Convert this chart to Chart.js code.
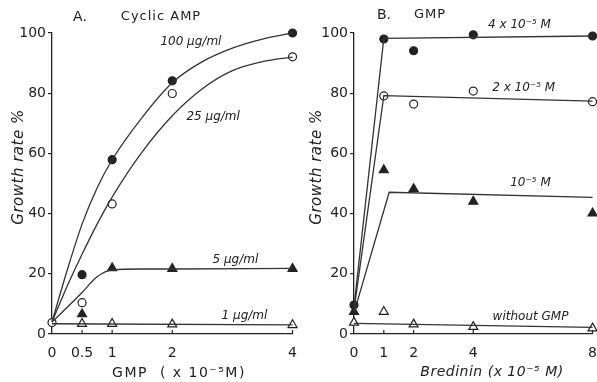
<!DOCTYPE html>
<html>
<head>
<meta charset="utf-8">
<script src="https://cdn.jsdelivr.net/npm/chart.js@4"></script>
<style>
  html, body { margin: 0; padding: 0; background: #fff; overflow: hidden; }
  #wrap { position: relative; width: 597px; height: 382px; overflow: hidden; }
  .panel { position: absolute; top: 0; height: 382px; }
  #panel-a { left: 0; width: 300px; }
  #panel-b { left: 300px; width: 300px; }
</style>
</head>
<body>
<div id="wrap">
  <div class="panel" id="panel-a"><canvas id="chart-a"></canvas></div>
  <div class="panel" id="panel-b"><canvas id="chart-b"></canvas></div>
</div>
<script>
// Panel A: cyclic AMP, x = GMP (x 10^-5 M)
const doseA = [0.5, 1, 2, 4]
const camp100 = [19.7, 57.9, 84.1, 100]
const camp25 = [10.4, 43.2, 79.9, 92.1]
const camp5 = [6.6, 21.9, 21.7, 21.7]
const camp1 = [3.4, 3.4, 3.2, 3.0]
const controlA = 3.8
const xTicksA = [0, 0.5, 1, 2, 4]

// hand drawn curves
const curveX = [0, 0.25, 0.5, 0.75, 1, 1.5, 2, 2.5, 3, 3.5, 4]
const curve100Y = [4, 21, 36.5, 48.5, 57.9, 72, 83.5, 90.5, 95, 98, 100]
const curve25Y = [4, 15.8, 26.5, 36.5, 45.5, 60.5, 72.5, 81.5, 87.5, 90.5, 92]
const curve5X = [0, 0.25, 0.5, 0.75, 1, 1.5, 2, 4]
const curve5Y = [4, 8.8, 13.8, 19, 21.3, 21.6, 21.6, 21.8]
const curve1X = [0, 4]
const curve1Y = [3.4, 3.0]

// Panel B: GMP, x = Bredinin (x 10^-5 M)
const doseB = [0, 1, 2, 4, 8]
const gmp4 = [9.6, 98, 94.1, 99.4, 99]
const gmp2 = [null, 79.1, 76.4, 80.7, 77.2]
const gmp1 = [7.4, 54.5, 48.2, 44, 40.1]
const noGmp = [3.8, 7.4, 3.2, 2.4, 1.9]
const xTicksB = [0, 1, 2, 4, 8]

const fit4X = [0, 1, 8]
const fit4Y = [9, 98.2, 99]
const fit2X = [0, 1, 8]
const fit2Y = [8, 79.2, 77.4]
const fit1X = [0, 1.18, 8]
const fit1Y = [7, 47.1, 45.4]
const fit0X = [0, 8]
const fit0Y = [3.5, 2.2]

const ink = '#222'
const lineInk = '#333'

Chart.defaults.font.family = 'DejaVu Sans'
Chart.defaults.color = ink

const pairs = (xs, ys) => xs.map((x, i) => ({ x: x, y: ys[i] })).filter((p) => p.y !== null)

const curve = (xs, ys, smooth) => ({
  type: 'line',
  data: pairs(xs, ys),
  borderColor: lineInk,
  borderWidth: 1.3,
  pointRadius: 0,
  tension: smooth ? 0.4 : 0,
  cubicInterpolationMode: smooth ? 'monotone' : 'default',
  clip: false
})

const marks = (xs, ys, style, filled) => ({
  type: 'scatter',
  data: pairs(xs, ys),
  pointStyle: style,
  pointRadius: style === 'triangle' ? 5.2 : 4,
  pointBackgroundColor: filled ? ink : '#fff',
  pointBorderColor: ink,
  pointBorderWidth: 1.2,
  clip: false
})

const annotate = {
  id: 'annotate',
  afterDraw(chart, args, opts) {
    const { ctx } = chart
    const x = chart.scales.x
    const y = chart.scales.y
    ctx.save()
    ctx.strokeStyle = ink
    ctx.lineWidth = 1.2
    opts.xTicks.forEach((v) => {
      if (v === 0) return
      const px = x.getPixelForValue(v)
      ctx.beginPath()
      ctx.moveTo(px, y.bottom)
      ctx.lineTo(px, y.bottom - 4)
      ctx.stroke()
    })
    ctx.fillStyle = ink
    ctx.textAlign = 'center'
    ctx.textBaseline = 'middle'
    opts.labels.forEach((l) => {
      ctx.font = 'italic 12px "DejaVu Sans"'
      ctx.letterSpacing = '0px'
      ctx.fillText(l.text, x.getPixelForValue(l.x), y.getPixelForValue(l.y))
    })
    opts.texts.forEach((t) => {
      ctx.font = t.font
      ctx.letterSpacing = t.spacing || '0px'
      ctx.save()
      ctx.translate(t.px, t.py)
      ctx.rotate(t.rot || 0)
      ctx.fillText(t.text, 0, 0)
      ctx.restore()
    })
    ctx.restore()
  }
}

function makeChart(id, datasets, xMax, xTicks, yWidth, rightPad, labels, texts) {
  return new Chart(document.getElementById(id), {
    data: { datasets: datasets },
    options: {
      responsive: true,
      maintainAspectRatio: false,
      animation: false,
      layout: { padding: { top: 33, right: rightPad, left: 0, bottom: 0 } },
      plugins: {
        legend: { display: false },
        tooltip: { enabled: false },
        annotate: { xTicks: xTicks, labels: labels, texts: texts }
      },
      scales: {
        x: {
          type: 'linear',
          min: 0,
          max: xMax,
          afterBuildTicks: (scale) => {
            scale.ticks = xTicks.map((v) => ({ value: v }))
          },
          afterFit: (scale) => {
            scale.height = 48
          },
          grid: { display: false },
          border: { display: true, color: ink, width: 1.3 },
          ticks: {
            padding: 3,
            font: { size: 14 },
            color: ink,
            callback: (v) => String(v)
          }
        },
        y: {
          min: 0,
          max: 100,
          afterFit: (scale) => {
            scale.width = yWidth
          },
          grid: { drawOnChartArea: false, drawTicks: true, tickLength: 4, color: ink, lineWidth: 1.2 },
          border: { display: true, color: ink, width: 1.3 },
          ticks: { stepSize: 20, padding: 2, font: { size: 14 }, color: ink }
        }
      }
    },
    plugins: [annotate]
  })
}

makeChart(
  'chart-a',
  [
    curve(curveX, curve100Y, true),
    curve(curveX, curve25Y, true),
    curve(curve5X, curve5Y, true),
    curve(curve1X, curve1Y, false),
    marks(doseA, camp100, 'circle', true),
    marks([0, ...doseA], [controlA, ...camp25], 'circle', false),
    marks(doseA, camp5, 'triangle', true),
    marks(doseA, camp1, 'triangle', false)
  ],
  4,
  xTicksA,
  52,
  2,
  [
    { text: '100 µg/ml', x: 2.31, y: 97 },
    { text: '25 µg/ml', x: 2.68, y: 72.3 },
    { text: '5 µg/ml', x: 3.05, y: 24.7 },
    { text: '1 µg/ml', x: 3.2, y: 6 }
  ],
  [
    { text: 'A.', px: 80, py: 17, font: '14px "DejaVu Sans"' },
    { text: 'Cyclic AMP', px: 161, py: 17, font: '13px "DejaVu Sans"', spacing: '1px' },
    { text: 'Growth rate %', px: 19, py: 167, rot: -Math.PI / 2, font: 'italic 15px "DejaVu Sans"', spacing: '0.5px' },
    { text: 'GMP  ( x 10⁻⁵M)', px: 179, py: 373, font: '14px "DejaVu Sans"', spacing: '1.5px' }
  ]
)

makeChart(
  'chart-b',
  [
    curve(fit4X, fit4Y, false),
    curve(fit2X, fit2Y, false),
    curve(fit1X, fit1Y, false),
    curve(fit0X, fit0Y, false),
    marks(doseB, gmp4, 'circle', true),
    marks(doseB, gmp2, 'circle', false),
    marks(doseB, gmp1, 'triangle', true),
    marks(doseB, noGmp, 'triangle', false)
  ],
  8,
  xTicksB,
  54,
  0,
  [
    { text: '4 x 10⁻⁵ M', x: 5.55, y: 102.7 },
    { text: '2 x 10⁻⁵ M', x: 5.69, y: 81.7 },
    { text: '10⁻⁵ M', x: 5.92, y: 50.2 },
    { text: 'without GMP', x: 5.92, y: 5.6 }
  ],
  [
    { text: 'B.', px: 84, py: 15, font: '14px "DejaVu Sans"' },
    { text: 'GMP', px: 130, py: 15, font: '13px "DejaVu Sans"', spacing: '1px' },
    { text: 'Growth rate %', px: 17, py: 167, rot: -Math.PI / 2, font: 'italic 15px "DejaVu Sans"', spacing: '0.5px' },
    { text: 'Bredinin (x 10⁻⁵ M)', px: 192, py: 372, font: 'italic 14px "DejaVu Sans"', spacing: '0.5px' }
  ]
)
</script>
</body>
</html>
